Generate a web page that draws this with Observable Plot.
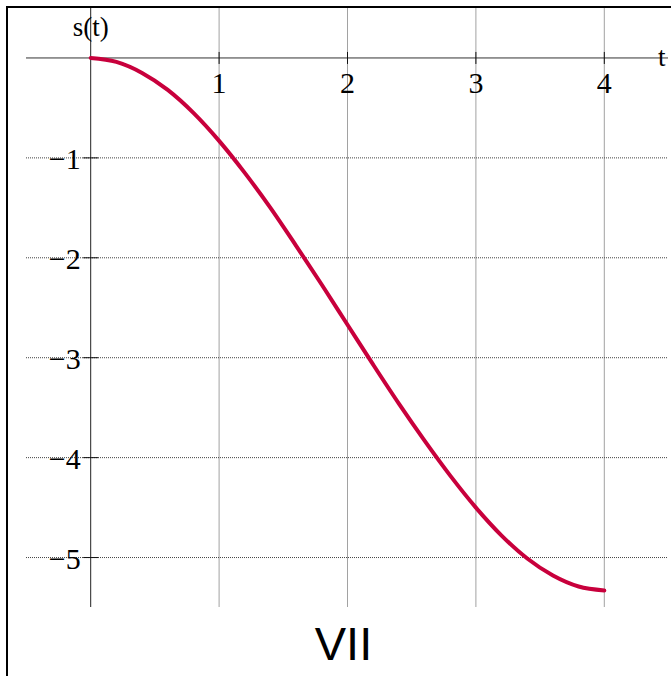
<!DOCTYPE html>
<html>
<head>
<meta charset="utf-8">
<script src="https://cdn.jsdelivr.net/npm/d3@7"></script>
<script src="https://cdn.jsdelivr.net/npm/@observablehq/plot@0.6"></script>
<style>
  html, body { margin: 0; padding: 0; background: #fff; }
  #wrap { position: relative; width: 671px; height: 676px; overflow: hidden; }
  #frame { position: absolute; left: 6px; top: 6px; width: 700px; height: 700px;
           border-left: 2px solid #000; border-top: 2px solid #000; pointer-events: none; }
</style>
</head>
<body>
<div id="wrap"><div id="frame"></div></div>
<script>
// Curve s(t)
const tValues = [0, 0.2, 0.4, 0.6, 0.8, 1, 1.2, 1.4, 1.6, 1.8, 2, 2.2, 2.4, 2.6, 2.8, 3, 3.2, 3.4, 3.6, 3.8, 4];
const sValues = [0, -0.04, -0.15, -0.32, -0.55, -0.83, -1.15, -1.50, -1.88, -2.27, -2.67, -3.07, -3.46, -3.83, -4.18, -4.5, -4.78, -5.01, -5.18, -5.29, -5.33];

// Ticks
const xTicks = [1, 2, 3, 4];
const xTickLabels = ["1", "2", "3", "4"];
const yTicks = [-1, -2, -3, -4, -5];
const yTickLabels = ["\u22121", "\u22122", "\u22123", "\u22124", "\u22125"];

const xLabel = "t";
const yLabel = "s(t)";
const caption = "VII";

const curve = tValues.map((t, i) => ({t, s: sValues[i]}));

const serif = "'Liberation Serif', 'DejaVu Serif', serif";
const curveColor = "#c8003c";

// custom tick symbols (crossing marks), size = r^2*pi
const vTick = {draw(ctx, size) { const h = Math.sqrt(size / Math.PI); ctx.moveTo(0, -h); ctx.lineTo(0, h); }};
const hTick = {draw(ctx, size) { const h = Math.sqrt(size / Math.PI); ctx.moveTo(-h, 0); ctx.lineTo(h, 0); }};

const chart = Plot.plot({
  width: 671,
  height: 676,
  marginLeft: 26,
  marginRight: 3,
  marginTop: 7.5,
  marginBottom: 69,
  style: {background: "transparent", overflow: "visible"},
  x: {domain: [-0.5, 4.5], axis: null},
  y: {domain: [-5.5, 0.5], axis: null},
  marks: [
    // grid
    Plot.ruleX(xTicks, {x: d => d, stroke: "#444", strokeWidth: 1, strokeDasharray: "1,1"}),
    Plot.ruleY(yTicks, {y: d => d, stroke: "#444", strokeWidth: 1, strokeDasharray: "1,1"}),
    // axes through origin
    Plot.ruleY([0], {stroke: "#333", strokeWidth: 1}),
    Plot.ruleX([0], {stroke: "#222", strokeWidth: 1}),
    // tick marks
    Plot.dot(xTicks, {x: d => d, y: 0, symbol: vTick, r: 6, stroke: "#111", strokeWidth: 1, fill: "none"}),
    Plot.dot(yTicks, {x: 0, y: d => d, symbol: hTick, r: 7.5, stroke: "#111", strokeWidth: 1, fill: "none"}),
    // tick labels
    Plot.text(xTicks, {x: d => d, y: 0, text: (d, i) => xTickLabels[i], lineAnchor: "bottom", dy: 35.5,
      fontFamily: serif, fontSize: 30, fill: "#000"}),
    Plot.text(yTicks, {x: 0, y: d => d, text: (d, i) => yTickLabels[i], textAnchor: "end", lineAnchor: "middle",
      dx: -10, dy: 2, fontFamily: serif, fontSize: 30, fill: "#000"}),
    // axis labels
    Plot.text([yLabel], {x: 0, frameAnchor: "top", text: d => d, lineAnchor: "bottom", dy: 28,
      fontFamily: serif, fontSize: 27, fill: "#000"}),
    Plot.text([xLabel], {frameAnchor: "right", y: 0, text: d => d, textAnchor: "end", lineAnchor: "bottom",
      dx: -3, dy: 8.5, fontFamily: serif, fontSize: 27, fill: "#000"}),
    // curve
    Plot.line(curve, {x: "t", y: "s", curve: "monotone-x", stroke: curveColor, strokeWidth: 4}),
    // caption
    Plot.text([caption], {x: 2, frameAnchor: "bottom", text: d => d, lineAnchor: "bottom", dy: 52, dx: -4,
      fontFamily: "'Liberation Sans', Arial, sans-serif", fontSize: 47, fill: "#000"})
  ]
});
document.getElementById("wrap").insertBefore(chart, document.getElementById("frame"));
</script>
</body>
</html>
